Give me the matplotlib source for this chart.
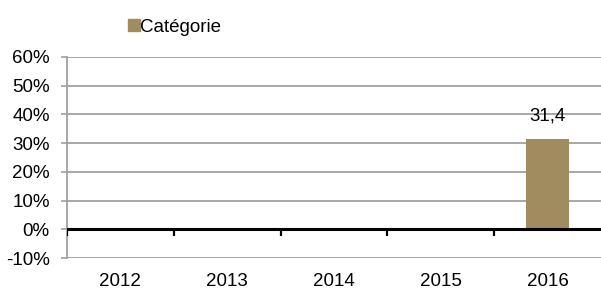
import numpy as np
import matplotlib.pyplot as plt
import matplotlib.transforms as mtransforms
from matplotlib.lines import Line2D

plt.rcParams['font.family'] = ['Liberation Sans', 'DejaVu Sans']

# data
years = ['2012', '2013', '2014', '2015', '2016']
values = [np.nan, np.nan, np.nan, np.nan, 31.4]
series_name = 'Catégorie'
yticks = [-10, 0, 10, 20, 30, 40, 50, 60]

BAR = '#A08C5E'
GRID = '#A0A0A0'
FS = 13.5

fig = plt.figure(figsize=(6.01, 2.89), dpi=100)
ax = fig.add_axes([0.1115, 0.107, 0.8885, 0.696])

x = np.arange(len(years))
ax.bar(x, values, width=0.4, color=BAR, zorder=2)
for xi, v in zip(x, values):
    if not np.isnan(v):
        ax.text(xi, v + 5, f'{v:.1f}'.replace('.', ','), ha='center', va='bottom',
                fontsize=FS)

ax.set_xlim(-0.5, len(years) - 0.5)
ax.set_ylim(-10, 60)
ax.set_yticks(yticks)
ax.set_yticklabels([f'{t}%' for t in yticks], fontsize=FS)
ax.yaxis.grid(True, color=GRID, linewidth=1.3)
ax.set_axisbelow(True)
ax.tick_params(axis='y', length=4.5, width=1.2, color=GRID, pad=8)

# zero line with category separator ticks
ax.axhline(0, color='black', linewidth=2.2, zorder=3)
trans = mtransforms.blended_transform_factory(ax.transData, ax.transAxes)
bounds = np.arange(len(years)) - 0.5
ax.vlines(bounds, -2.2, 0, color='black', linewidth=1.6, zorder=3)

ax.set_xticks([])
for xi, lab in zip(x, years):
    ax.text(xi, -0.075, lab, transform=trans, ha='center', va='top', fontsize=FS)

for s in ['top', 'right', 'bottom']:
    ax.spines[s].set_visible(False)
ax.spines['left'].set_color(GRID)
ax.spines['left'].set_linewidth(1.3)

handle = Line2D([], [], marker='s', linestyle='none', markersize=8.5,
                markerfacecolor=BAR, markeredgecolor=BAR)
fig.legend([handle], [series_name], loc='center left', bbox_to_anchor=(0.208, 0.905),
           frameon=False, fontsize=FS, handletextpad=-0.2, handlelength=1.0,
           borderaxespad=0, borderpad=0)

fig.savefig('out.png', dpi=100)
